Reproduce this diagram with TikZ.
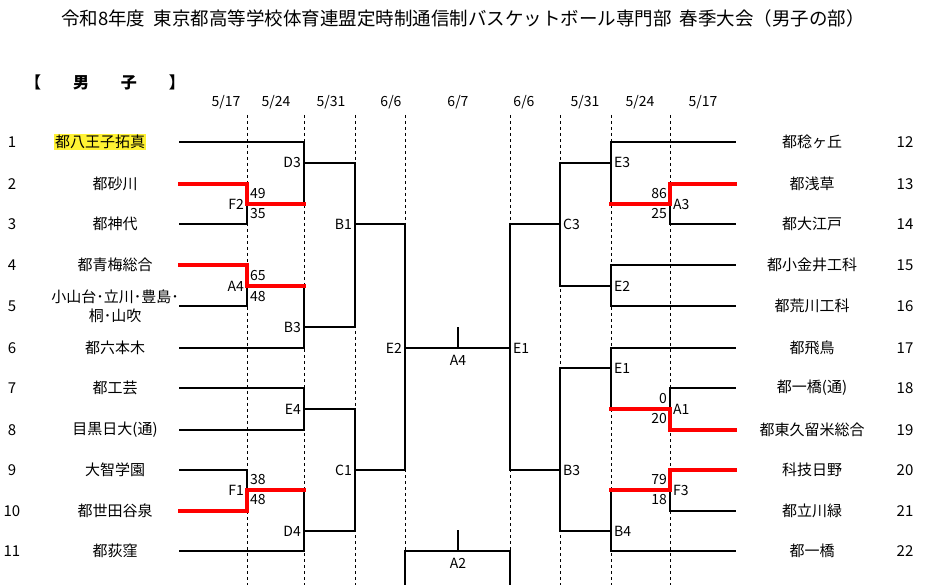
\documentclass[tikz,border=0pt]{standalone}
\usepackage{fontspec}
\setmainfont{Noto Sans CJK JP}
\definecolor{hlyel}{rgb}{1,0.95,0.2}
\tikzset{
  ln/.style={line width=2pt,line cap=rect},
  win/.style={line width=3.6pt,red,line cap=rect},
  dsh/.style={dashed,line width=0.8pt},
  tx/.style={font=\fontsize{15}{16}\selectfont,inner sep=1pt},
  sm/.style={font=\fontsize{14}{15}\selectfont,inner sep=1pt}
}
\begin{document}
\begin{tikzpicture}[x=1pt,y=-1pt]
\useasboundingbox (0,0) rectangle (927,585);
\node[font=\fontsize{18.5}{20}\selectfont] (title) at (463,18) {令和8年度\ \ 東京都高等学校体育連盟定時制通信制バスケットボール専門部\ \ 春季大会（男子の部）};
\node[tx,font=\fontsize{16}{17}\selectfont\bfseries] (sex) at (105,82) {【\qquad 男\qquad 子\qquad 】};
% dates and dashed columns
\foreach \x/\d in {226/{5/17},276/{5/24},331/{5/31},391/{6/6},458/{6/7},524/{6/6},585/{5/31},640/{5/24},703/{5/17}}
  \node[sm] at (\x,102) {\d};
\foreach \x in {247,304,355,405,510,560,611,670}
  \draw[dsh] (\x,115) -- (\x,585);
% team rows
\foreach \n/\t/\y in {2/都砂川/184,3/都神代/224,4/都青梅総合/265,6/都六本木/348,7/都工芸/388,8/目黒日大(通)/430,9/大智学園/470,10/都世田谷泉/511,11/都荻窪/551}{
  \node[tx] (n\n) at (12,\y) {\n};
  \node[tx] (t\n) at (115,\y) {\t};
}
\node[tx] (n1) at (12,142) {1};
\node[tx,fill=hlyel] (t1) at (100,142) {都八王子拓真};
\node[tx] (n5) at (12,306) {5};
\node[tx,align=center,font=\fontsize{15}{19}\selectfont] (t5) at (115,306) {小山台･立川･豊島･\\桐･山吹};
\foreach \n/\t/\y in {12/都稔ヶ丘/142,13/都浅草/184,14/都大江戸/224,15/都小金井工科/265,16/都荒川工科/306,17/都飛鳥/348,18/都一橋(通)/388,19/都東久留米総合/430,20/科技日野/470,21/都立川緑/511,22/都一橋/551}{
  \node[tx] (n\n) at (905,\y) {\n};
  \node[tx] (t\n) at (812,\y) {\t};
}
% left bracket
\draw[ln] (180,142) -- (304,142) -- (304,204);
\draw[ln] (180,224) -- (247,224) -- (247,204);
\draw[ln] (180,306) -- (247,306) -- (247,286);
\draw[ln] (304,286) -- (304,348) -- (180,348);
\draw[ln] (304,163) -- (355,163) -- (355,327) -- (304,327);
\draw[ln] (355,224) -- (405,224) -- (405,470) -- (355,470);
\draw[ln] (180,388) -- (304,388) -- (304,430) -- (180,430);
\draw[ln] (304,409) -- (355,409) -- (355,531) -- (304,531);
\draw[ln] (180,470) -- (247,470) -- (247,490);
\draw[ln] (304,490) -- (304,551) -- (180,551);
\draw[win] (180,184) -- (247,184) -- (247,204) -- (304,204);
\draw[win] (180,265) -- (247,265) -- (247,286) -- (304,286);
\draw[win] (180,511) -- (247,511) -- (247,490) -- (304,490);
% centre
\draw[ln] (405,348) -- (510,348);
\draw[ln] (458,328) -- (458,348);
\draw[ln] (405,585) -- (405,551) -- (510,551) -- (510,585);
\draw[ln] (458,531) -- (458,551);
% right bracket
\draw[ln] (735,142) -- (611,142) -- (611,204);
\draw[ln] (735,224) -- (670,224) -- (670,204);
\draw[ln] (735,265) -- (611,265) -- (611,306) -- (735,306);
\draw[ln] (611,163) -- (560,163) -- (560,286) -- (611,286);
\draw[ln] (560,224) -- (510,224) -- (510,470) -- (560,470);
\draw[ln] (735,348) -- (611,348) -- (611,409);
\draw[ln] (735,388) -- (670,388) -- (670,409);
\draw[ln] (735,511) -- (670,511) -- (670,490);
\draw[ln] (611,490) -- (611,551) -- (735,551);
\draw[ln] (611,368) -- (560,368) -- (560,531) -- (611,531);
\draw[win] (735,184) -- (670,184) -- (670,204) -- (611,204);
\draw[win] (735,430) -- (670,430) -- (670,409) -- (611,409);
\draw[win] (735,470) -- (670,470) -- (670,490) -- (611,490);
% match labels
\foreach \l/\x/\y in {D3/304/162,F2/247/204,A4/247/286,B3/304/327,B1/355/224,E2/405/348,E4/304/409,C1/355/470,F1/247/490,D4/304/531}
  \node[sm,anchor=east] at (\x-2,\y) {\l};
\foreach \l/\x/\y in {E3/611/162,A3/670/204,C3/560/224,E2/611/286,E1/510/348,E1/611/368,A1/670/409,B3/560/470,F3/670/490,B4/611/531}
  \node[sm,anchor=west] at (\x+2,\y) {\l};
\node[sm] (a4) at (458,360) {A4};
\node[sm] (a2) at (458,563) {A2};
% scores
\foreach \s/\x/\y in {49/247/194,35/247/214,65/247/276,48/247/297,38/247/480,48/247/500}
  \node[sm,anchor=west] at (\x+2,\y) {\s};
\foreach \s/\x/\y in {86/670/194,25/670/214,0/670/399,20/670/419,79/670/480,18/670/500}
  \node[sm,anchor=east] at (\x-2,\y) {\s};
\end{tikzpicture}
\end{document}
